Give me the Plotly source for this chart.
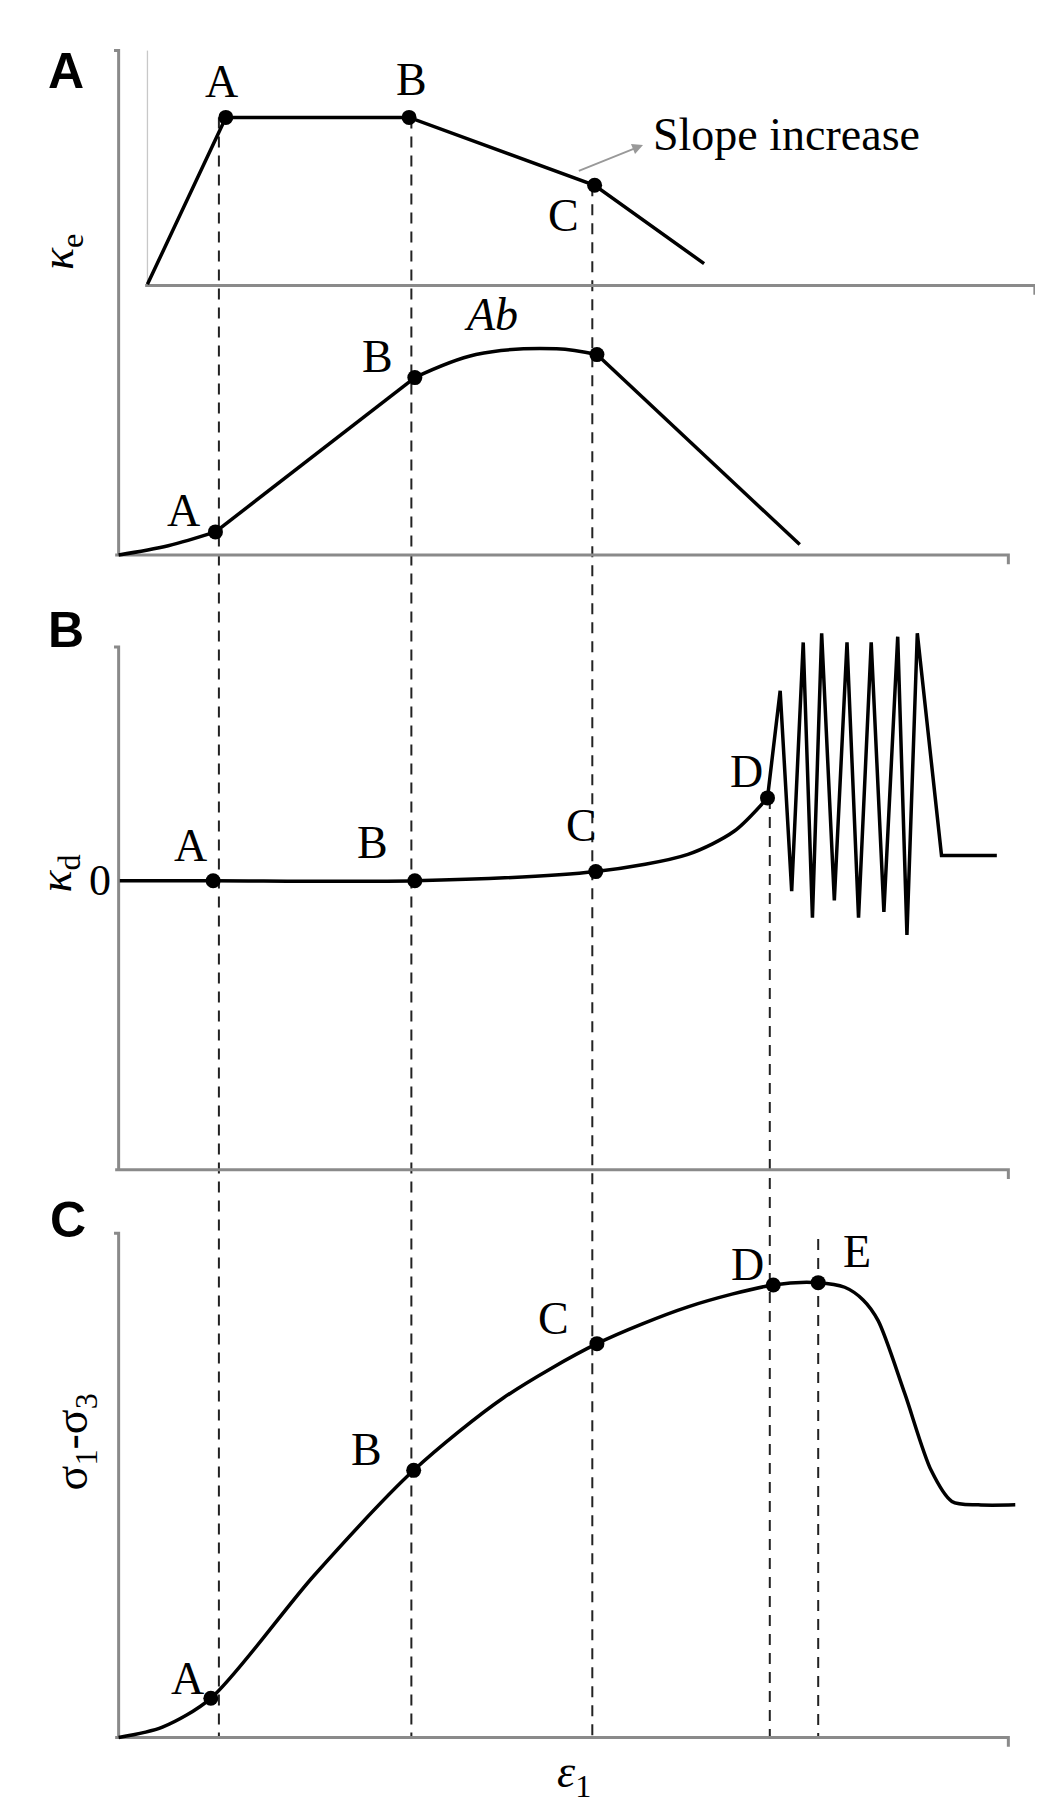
import plotly.graph_objects as go

# Coordinates in a schematic frame (x: strain units 0..905, y: downward units 0..1565)
ke_x = [121, 189, 348, 509, 604]
ke_y = [240, 95, 95, 154, 222]
ke_pts_x = [189, 348, 509]
ke_pts_y = [95, 95, 154]

ab_toe_x = [96, 139, 180]
ab_toe_y = [475, 467, 455]
ab_lin_x = [180, 353]
ab_lin_y = [455, 321]
ab_hump_x = [353, 406, 476, 511]
ab_hump_y = [321, 301, 296, 301]
ab_fall_x = [511, 687]
ab_fall_y = [301, 466]
ab_pts_x = [180, 353, 511]
ab_pts_y = [455, 321, 301]

kd_smooth_x = [97, 178, 353, 510, 590, 630, 659]
kd_smooth_y = [758, 758, 758, 750, 735, 715, 686]
kd_zig_x = [659, 670, 680, 690, 698, 706, 717, 728, 738, 749, 760, 772, 780, 789, 810, 858]
kd_zig_y = [686, 593, 767, 551, 790, 543, 775, 551, 790, 551, 785, 546, 805, 543, 736, 736]
kd_pts_x = [178, 353, 510, 659]
kd_pts_y = [758, 758, 750, 686]

s_x = [96, 134, 176, 265, 352, 430, 511, 590, 664, 703, 726, 742, 755, 778, 801, 819, 842, 874]
s_y = [1502, 1493, 1468, 1362, 1270, 1207, 1160, 1128, 1109, 1107, 1111, 1122, 1140, 1203, 1270, 1297, 1300, 1300]
s_pts_x = [176, 352, 511, 664, 703]
s_pts_y = [1468, 1270, 1160, 1109, 1107]

dash_x = [183, 350, 507, 661, 703]
dash_top = [95, 95, 154, 686, 1069]
dash_bottom = 1502

fig = go.Figure()
BLK = "black"
GR = "#8a8a8a"

def line(x, y, color=GR, width=2.5, dash=None, shape="linear", smoothing=1.0):
    fig.add_trace(go.Scatter(x=x, y=y, mode="lines",
                             line=dict(color=color, width=width, dash=dash, shape=shape, smoothing=smoothing),
                             hoverinfo="skip", showlegend=False))

for xd, yt in zip(dash_x, dash_top):
    line([xd, xd], [yt, dash_bottom], color="#222", width=2, dash="11px,8px")

line([92, 96, 96], [37, 37, 475], width=3)
line([121, 121], [37, 240], color="#c8c8c8", width=1.3)
line([119, 891, 891], [241, 241, 249], width=3)
line([93, 868, 868], [475, 475, 483], width=3)
line([92, 96, 96], [555, 555, 1009], width=3)
line([93, 868, 868], [1009, 1009, 1017], width=3)
line([92, 96, 96], [1064, 1064, 1502], width=3)
line([93, 868, 868], [1502, 1502, 1510], width=3)
fig.add_annotation(x=551, y=119, ax=494, ay=142, xref="x", yref="y", axref="x", ayref="y",
                   showarrow=True, arrowhead=2, arrowsize=1.2, arrowwidth=1.8, arrowcolor="#999", text="")

W = 3.5
line(ke_x, ke_y, color=BLK, width=W)
line(ab_toe_x, ab_toe_y, color=BLK, width=W, shape="spline")
line(ab_lin_x, ab_lin_y, color=BLK, width=W)
line(ab_hump_x, ab_hump_y, color=BLK, width=W, shape="spline")
line(ab_fall_x, ab_fall_y, color=BLK, width=W)
line(kd_smooth_x, kd_smooth_y, color=BLK, width=W, shape="spline", smoothing=0.8)
line(kd_zig_x, kd_zig_y, color=BLK, width=W)
line(s_x, s_y, color=BLK, width=W, shape="spline", smoothing=0.8)

for px, py in [(ke_pts_x, ke_pts_y), (ab_pts_x, ab_pts_y), (kd_pts_x, kd_pts_y), (s_pts_x, s_pts_y)]:
    fig.add_trace(go.Scatter(x=px, y=py, mode="markers", marker=dict(color=BLK, size=15),
                             hoverinfo="skip", showlegend=False))

serif = "Liberation Serif"
def txt(x, y, t, size=46, font=serif, color="black", anchor="center", angle=0, bold=False):
    fig.add_annotation(x=x, y=y, xref="x", yref="y", text=("<b>%s</b>" % t) if bold else t,
                       showarrow=False, xanchor=anchor, textangle=angle,
                       font=dict(family=font, size=size, color=color))

txt(50, 55, "A", size=50, font="Liberation Sans", bold=True)
txt(50, 540, "B", size=50, font="Liberation Sans", bold=True)
txt(52, 1053, "C", size=50, font="Liberation Sans", bold=True)

txt(185, 64, "A"); txt(350, 62, "B"); txt(482, 180, "C")
txt(152, 436, "A"); txt(321, 303, "B")
txt(419, 266, "<i>Ab</i>")
txt(158, 727, "A"); txt(316, 725, "B"); txt(498, 710, "C"); txt(641, 663, "D")
txt(156, 1451, "A"); txt(311, 1252, "B"); txt(473, 1138, "C"); txt(642, 1091, "D"); txt(737, 1080, "E")
txt(558, 110, "Slope increase", anchor="left")

txt(46, 212, "<i>κ</i><sub>e</sub>", size=46, angle=-90)
txt(44, 752, "<i>κ</i><sub>d</sub>", size=46, angle=-90)
txt(80, 758, "0", size=44)
txt(58, 1245, "σ<sub>1</sub>-σ<sub>3</sub>", size=46, angle=-90)
txt(491, 1535, "<i>ε</i><sub>1</sub>", size=46)

fig.update_layout(width=1043, height=1802, margin=dict(l=0, r=0, t=0, b=0),
                  plot_bgcolor="white", paper_bgcolor="white",
                  xaxis=dict(range=[0, 905], visible=False, fixedrange=True),
                  yaxis=dict(range=[1565, 0], visible=False, fixedrange=True))
fig.write_html("out.html")
